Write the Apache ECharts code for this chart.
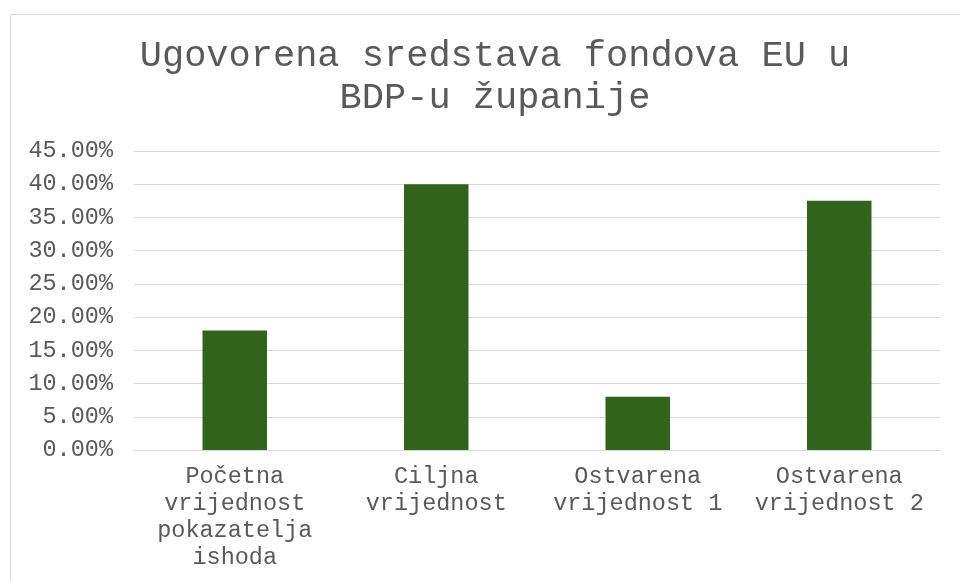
<!DOCTYPE html>
<html>
<head>
<meta charset="utf-8">
<style>
  html, body { margin: 0; padding: 0; background: #fff; }
  #chart { width: 960px; height: 581px; }
</style>
<script src="https://cdn.jsdelivr.net/npm/echarts@6/dist/echarts.min.js"></script>
</head>
<body>
<div id="chart"></div>
<script>
const titleText = 'Ugovorena sredstava fondova EU u\nBDP-u županije';
const categories = [
    'Početna\nvrijednost\npokazatelja\nishoda',
    'Ciljna\nvrijednost',
    'Ostvarena\nvrijednost 1',
    'Ostvarena\nvrijednost 2'
];
const values = [18, 40, 8, 37.5];
const yMin = 0;
const yMax = 45;
const yStep = 5;

const mono = '"Liberation Mono", "Courier New", monospace';
const textGray = '#595959';
const lineGray = '#d9d9d9';

const chart = echarts.init(document.getElementById('chart'));
chart.setOption({
    animation: false,
    backgroundColor: '#fff',
    graphic: [{
        type: 'rect',
        shape: { x: 10.5, y: 14.5, width: 1000, height: 1000 },
        style: { fill: 'none', stroke: lineGray, lineWidth: 1 },
        silent: true
    }],
    title: {
        text: titleText,
        left: 490,
        textAlign: 'center',
        top: 30,
        textStyle: {
            fontFamily: mono,
            fontSize: 37,
            fontWeight: 'normal',
            color: textGray,
            lineHeight: 42
        }
    },
    grid: { left: 134, right: 20, top: 151, bottom: 131 },
    xAxis: {
        type: 'category',
        data: categories,
        axisLine: { lineStyle: { color: lineGray, width: 1 } },
        axisTick: { show: false },
        axisLabel: {
            interval: 0,
            margin: 13,
            fontFamily: mono,
            fontSize: 23.5,
            lineHeight: 27,
            color: textGray
        }
    },
    yAxis: {
        type: 'value',
        min: yMin,
        max: yMax,
        interval: yStep,
        axisLine: { show: false },
        axisTick: { show: false },
        splitLine: { lineStyle: { color: lineGray, width: 1 } },
        axisLabel: {
            margin: 21,
            fontFamily: mono,
            fontSize: 23.5,
            color: textGray,
            formatter: v => v.toFixed(2) + '%'
        }
    },
    series: [{
        type: 'bar',
        data: values,
        barWidth: '32%',
        itemStyle: { color: '#30641c' }
    }]
});
</script>
</body>
</html>
